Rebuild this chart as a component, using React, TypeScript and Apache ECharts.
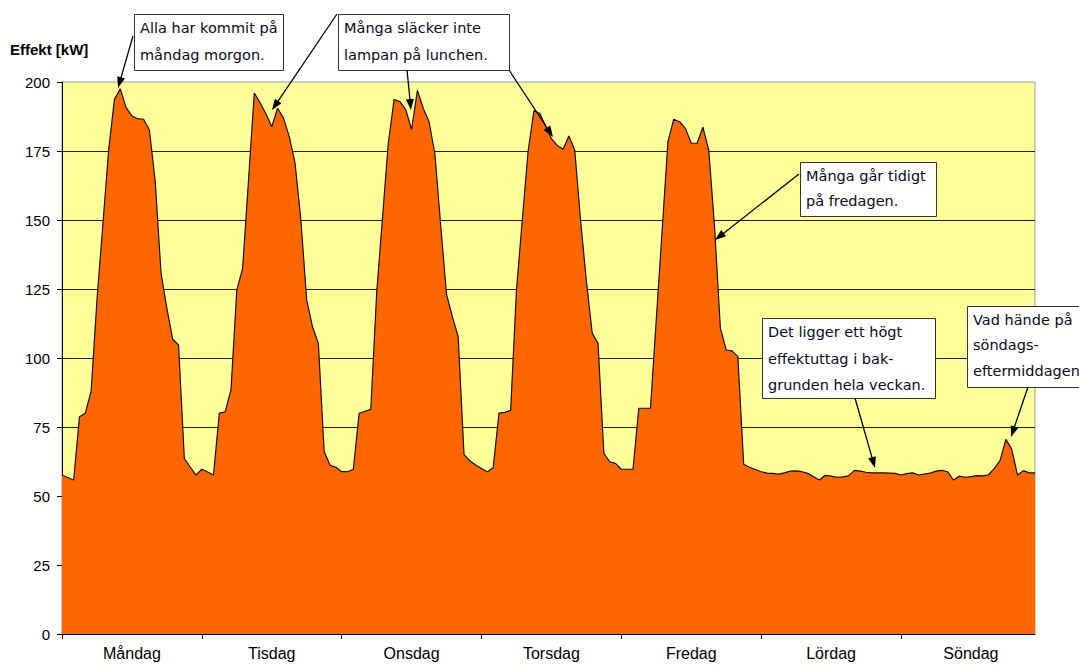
import React, { useEffect, useRef } from "react";
import * as echarts from "echarts";

const days = ["Måndag", "Tisdag", "Onsdag", "Torsdag", "Fredag", "Lördag", "Söndag"];

const monday = [57.6, 56.7, 55.8, 78.7, 80, 88, 121, 148, 175.3, 193.7, 197.5, 190.7, 187.7, 186.7, 186.5, 182.6, 164, 130.7, 118, 106.8, 104.7, 63.6, 60.5, 57.6];
const tuesday = [59.7, 58.7, 57.6, 80, 80.5, 88.4, 124.6, 132.5, 164, 196, 192.5, 188.5, 183.8, 190.5, 187, 180.3, 170.6, 150, 121, 111.3, 105.3, 66, 61.2, 60.4];
const wednesday = [58.8, 58.8, 59.7, 80, 80.7, 81.4, 123.4, 150.6, 177.8, 193.6, 192.9, 190, 182.8, 197, 190.5, 185.6, 174, 148, 123, 115, 107.7, 65, 62.8, 61.2];
const thursday = [60, 58.8, 60.2, 80, 80.3, 81, 124.6, 150, 175, 189.6, 188.7, 184, 179.5, 177, 175.6, 180.4, 175.4, 150, 128, 109, 105.3, 65.5, 62.4, 61.8];
const friday = [59.7, 59.7, 59.7, 81.8, 81.8, 81.8, 114, 146, 178.4, 186.5, 185.6, 183.2, 177.8, 177.8, 183.6, 175.4, 147.6, 110.8, 102.9, 102.6, 100.5, 61.5, 60.4, 59.6];
const saturday = [58.8, 58.3, 58.2, 57.9, 58.4, 59, 59.1, 58.8, 58.2, 57, 55.8, 57.5, 57.2, 56.8, 56.9, 57.3, 59.3, 59, 58.6, 58.4, 58.4, 58.4, 58.3, 58.2];
const sunday = [57.6, 58.1, 58.4, 57.6, 57.9, 58.3, 59, 59.3, 58.8, 55.8, 57.2, 56.8, 57, 57.4, 57.3, 57.7, 59.9, 62.8, 70.5, 67, 57.6, 59.2, 58.4, 58.4];

const Y_MIN = 0;
const Y_MAX = 200;
const Y_STEP = 25;

const annotations = [
  { x: 134, y: 14, w: 149, h: 56, lh: 26.5, lines: ["Alla har kommit på", "måndag morgon."] },
  { x: 338, y: 14, w: 171, h: 56, lh: 26.5, lines: ["Många släcker inte", "lampan på lunchen."] },
  { x: 800, y: 162, w: 136, h: 54, lh: 25, lines: ["Många går tidigt", "på fredagen."] },
  { x: 762, y: 318, w: 173, h: 80, lh: 26.5, lines: ["Det ligger ett högt", "effektuttag i bak-", "grunden hela veckan."] },
  { x: 967, y: 306, w: 140, h: 81, lh: 25.5, lines: ["Vad hände på", "söndags-", "eftermiddagen"] },
];

const arrows = [
  [133, 36, 118, 88],
  [337, 14, 272, 110],
  [407, 70, 411, 110],
  [509, 70, 553, 137],
  [799, 174, 715, 240],
  [855, 398, 875, 468],
  [1028, 387, 1011, 437],
];

function arrowEls(x1: number, y1: number, x2: number, y2: number) {
  const a = Math.atan2(y2 - y1, x2 - x1);
  const c = Math.cos(a);
  const s = Math.sin(a);
  const L = 11;
  const W = 4;
  const bx = x2 - L * c;
  const by = y2 - L * s;
  return [
    { type: "line", z: 100, shape: { x1, y1, x2: bx + 2 * c, y2: by + 2 * s }, style: { stroke: "#000", lineWidth: 1.3 } },
    {
      type: "polygon",
      z: 100,
      shape: { points: [[x2, y2], [bx - s * W, by + c * W], [bx + s * W, by - c * W]] },
      style: { fill: "#000" },
    },
  ];
}

export default function App() {
  const ref = useRef<HTMLDivElement>(null);
  useEffect(() => {
    const chart = echarts.init(ref.current!, null, { renderer: "svg" });
    const categories = days.flatMap((d) => Array.from({ length: 24 }, (_, h) => `${d} ${h}`));
    const values = [...monday, ...tuesday, ...wednesday, ...thursday, ...friday, ...saturday, ...sunday];

    const graphic: any[] = [
      {
        type: "text",
        left: 10,
        top: 42,
        z: 100,
        style: { text: "Effekt [kW]", font: "bold 15px 'Liberation Sans', Arial, sans-serif", fill: "#000" },
      },
    ];
    annotations.forEach((b) => {
      graphic.push({
        type: "rect",
        z: 100,
        shape: { x: b.x + 0.5, y: b.y + 0.5, width: b.w, height: b.h },
        style: { fill: "#fff", stroke: "#333", lineWidth: 1 },
      });
      graphic.push({
        type: "text",
        z: 101,
        x: b.x + 6,
        y: b.y + 1,
        style: {
          text: b.lines.join("\n"),
          fontSize: 14.5,
          fontFamily: "'DejaVu Sans', sans-serif",
          lineHeight: b.lh,
          fill: "#0a0a1e",
          verticalAlign: "top",
          align: "left",
        },
      });
    });
    arrows.forEach(([x1, y1, x2, y2]) => graphic.push(...arrowEls(x1, y1, x2, y2)));

    chart.setOption({
      animation: false,
      grid: {
        left: 62,
        right: 44,
        top: 82,
        bottom: 32,
        show: true,
        backgroundColor: "#FFFF99",
        borderColor: "#999",
        borderWidth: 1,
        outerBoundsMode: "none",
      },
      xAxis: {
        type: "category",
        data: categories,
        boundaryGap: false,
        axisLine: { lineStyle: { color: "#000", width: 1 } },
        axisTick: { interval: (i: number) => i % 24 === 0, length: 5, lineStyle: { color: "#000" } },
        axisLabel: {
          interval: (i: number) => i % 24 === 12,
          formatter: (v: string) => v.split(" ")[0],
          fontSize: 16,
          fontFamily: "'Liberation Sans', Arial, sans-serif",
          color: "#000",
          margin: 11,
        },
        splitLine: { show: false },
      },
      yAxis: {
        type: "value",
        min: Y_MIN,
        max: Y_MAX,
        interval: Y_STEP,
        axisLine: { show: true, lineStyle: { color: "#000", width: 1 } },
        axisTick: { show: true, length: 5, lineStyle: { color: "#000" } },
        axisLabel: {
          fontSize: 15,
          fontFamily: "'Liberation Sans', Arial, sans-serif",
          color: "#000",
          margin: 12,
        },
        splitLine: { show: true, showMaxLine: false, showMinLine: false, lineStyle: { color: "#222", width: 1 } },
      },
      series: [
        {
          type: "line",
          data: values,
          symbol: "none",
          lineStyle: { color: "#111", width: 1.2 },
          areaStyle: { color: "#FF6600", opacity: 1 },
        },
      ],
      graphic,
    });
    return () => chart.dispose();
  }, []);
  return <div ref={ref} style={{ position: "absolute", left: 0, top: 0, width: 1079, height: 666 }} />;
}
